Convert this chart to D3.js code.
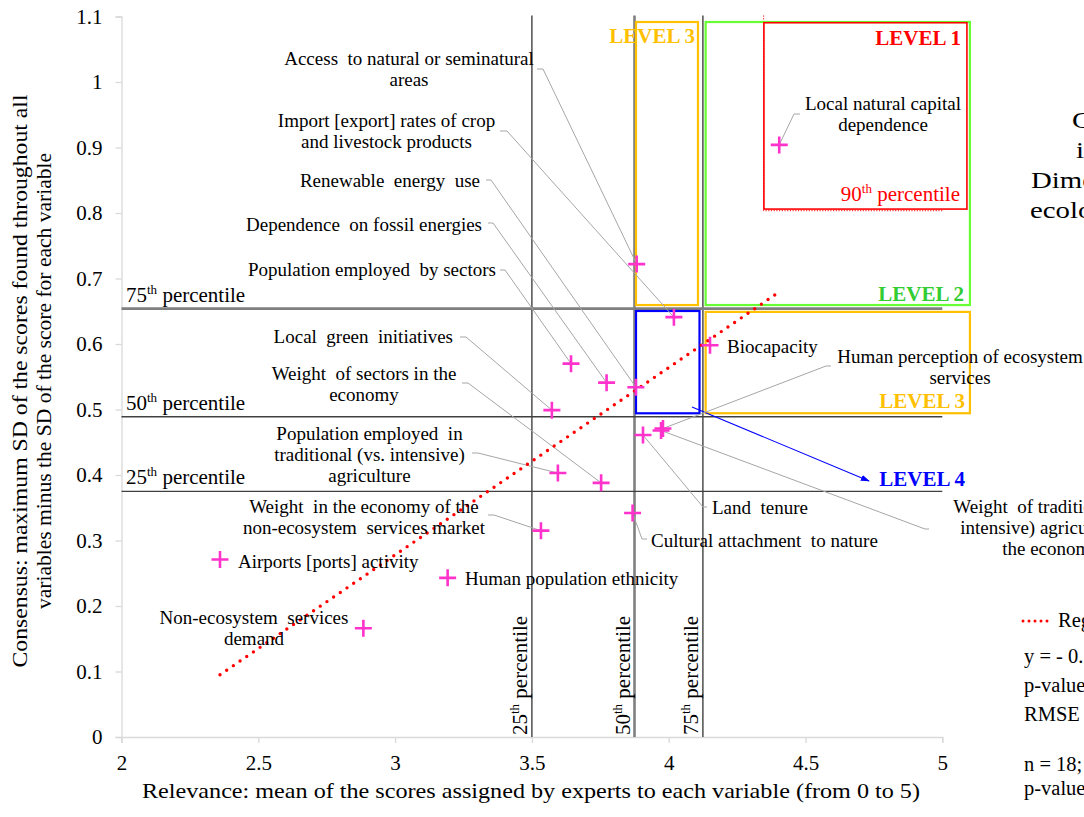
<!DOCTYPE html>
<html>
<head>
<meta charset="utf-8">
<script src="https://cdn.jsdelivr.net/npm/d3@7"></script>
<style>
  html, body { margin: 0; padding: 0; background: #fff; overflow: hidden; }
  svg { display: block; font-family: "Liberation Serif", "Times New Roman", serif; }
  text { white-space: pre; }
</style>
</head>
<body>
<svg id="chart" width="1084" height="817"></svg>
<script>
// ---- Variables scored by the experts ----
const variables = [
  "Local natural capital dependence",
  "Access to natural or seminatural areas",
  "Import [export] rates of crop and livestock products",
  "Renewable energy use",
  "Dependence on fossil energies",
  "Population employed by sectors",
  "Biocapacity",
  "Human perception of ecosystem services",
  "Local green initiatives",
  "Weight of sectors in the economy",
  "Population employed in traditional (vs. intensive) agriculture",
  "Weight in the economy of the non-ecosystem services market",
  "Airports [ports] activity",
  "Human population ethnicity",
  "Non-ecosystem services demand",
  "Cultural attachment to nature",
  "Land tenure",
  "Weight of traditional (vs. intensive) agriculture in the economy"
];
// Relevance: mean score (0-5)
const relevance = [4.404, 3.883, 4.019, 3.880, 3.773, 3.643, 4.151, 3.979, 3.573, 3.753, 3.595, 3.533, 2.360, 3.192, 2.884, 3.868, 3.906, 3.972];
// Consensus: max SD minus SD of the variable
const consensus = [0.904, 0.722, 0.641, 0.534, 0.541, 0.570, 0.598, 0.471, 0.499, 0.388, 0.403, 0.315, 0.271, 0.243, 0.166, 0.342, 0.461, 0.468];

// Percentile thresholds
const percentileNames = ["25", "50", "75"];
const relevancePercentiles = [3.5, 3.875, 4.125];
const consensusPercentiles = [0.375, 0.489, 0.654];
const relevanceP90 = 4.347;
const consensusP90 = 0.8035;

// Linear regression (consensus ~ relevance)
const regIntercept = -0.580;
const regSlope = 0.286;

// Priority levels (areas in data units)
const levelNames  = ["LEVEL 3", "LEVEL 2", "LEVEL 1", "LEVEL 4", "LEVEL 3"];
const levelColors = ["#FFC000", "#66FF33", "#FF0000", "#0000FF", "#FFC000"];
const levelX0 = [3.8805, 4.135, 4.348, 3.8805, 4.135];
const levelX1 = [4.107, 5.101, 5.090, 4.1126, 5.101];
const levelY0 = [0.6595, 0.6595, 0.806, 0.4942, 0.4943];
const levelY1 = [1.0916, 1.0916, 1.0905, 0.6504, 0.649];

// Axis ticks
const xTicks = [2, 2.5, 3, 3.5, 4, 4.5, 5];
const xTickLabels = ["2", "2.5", "3", "3.5", "4", "4.5", "5"];
const yTicks = [0, 0.1, 0.2, 0.3, 0.4, 0.5, 0.6, 0.7, 0.8, 0.9, 1, 1.1];
const yTickLabels = ["0", "0.1", "0.2", "0.3", "0.4", "0.5", "0.6", "0.7", "0.8", "0.9", "1", "1.1"];

// ---- Label layout (pixel placement of each variable's label and its leader stub) ----
const labelLayout = [
  { lines: ["Local natural capital", "dependence"], anchor: "middle", x: 883, y: 110, stub: [[800, 114], [794, 114]] },
  { lines: ["Access  to natural or seminatural", "areas"], anchor: "middle", x: 409, y: 65, stub: [[537, 69], [543, 69]] },
  { lines: ["Import [export] rates of crop", "and livestock products"], anchor: "middle", x: 386.5, y: 127, stub: [[500, 131], [507, 131]] },
  { lines: ["Renewable  energy  use"], anchor: "end", x: 480, y: 187, stub: [[486, 180], [491, 180]] },
  { lines: ["Dependence  on fossil energies"], anchor: "end", x: 482, y: 231, stub: [[488, 223], [493, 223]] },
  { lines: ["Population employed  by sectors"], anchor: "end", x: 496, y: 276, stub: [[500, 270], [505, 270]] },
  { lines: ["Biocapacity"], anchor: "start", x: 727, y: 353, stub: null },
  { lines: ["Human perception of ecosystem", "services"], anchor: "middle", x: 960, y: 363, stub: [[831, 366], [826, 366]] },
  { lines: ["Local  green  initiatives"], anchor: "end", x: 453, y: 343, stub: [[460, 337], [466, 337]] },
  { lines: ["Weight  of sectors in the", "economy"], anchor: "middle", x: 364, y: 380, stub: [[462, 383], [468, 383]] },
  { lines: ["Population employed  in", "traditional (vs. intensive)", "agriculture"], anchor: "middle", x: 369.5, y: 440, stub: [[472, 453], [478, 453]] },
  { lines: ["Weight  in the economy of the", "non-ecosystem  services market"], anchor: "middle", x: 364, y: 513, stub: [[488, 515], [494, 515]] },
  { lines: ["Airports [ports] activity"], anchor: "start", x: 238, y: 568, stub: null },
  { lines: ["Human population ethnicity"], anchor: "start", x: 465, y: 585, stub: null },
  { lines: ["Non-ecosystem  services", "demand"], anchor: "middle", x: 254, y: 624, stub: null },
  { lines: ["Cultural attachment  to nature"], anchor: "start", x: 651, y: 547, stub: [[647, 539], [642, 539]] },
  { lines: ["Land  tenure"], anchor: "start", x: 712, y: 514, stub: [[707, 507], [703, 507]] },
  { lines: ["Weight  of traditional (vs.", "intensive) agriculture in", "the economy"], anchor: "middle", x: 1051, y: 513, stub: [[929, 529], [925, 529]] }
];

const svg = d3.select("#chart");
svg.append("rect").attr("width", 1084).attr("height", 817).attr("fill", "#fff");

const x = d3.scaleLinear().domain([2, 5]).range([121.5, 942.3]);
const y = d3.scaleLinear().domain([0, 1.1]).range([737, 16.5]);

const serif = '"Liberation Serif", "Times New Roman", serif';

// ---- Axes ----
const yAxis = d3.axisLeft(y).tickValues(yTicks).tickSize(6).tickPadding(13)
  .tickFormat((d, i) => yTickLabels[i]);
const xAxis = d3.axisBottom(x).tickValues(xTicks).tickSize(6).tickPadding(12)
  .tickFormat((d, i) => xTickLabels[i]);

const gy = svg.append("g").attr("transform", `translate(${x(2)},0)`).call(yAxis);
const gx = svg.append("g").attr("transform", `translate(0,${y(0)})`).call(xAxis);
[gx, gy].forEach(g => {
  g.select(".domain").attr("stroke", "#D9D9D9").attr("stroke-width", 1.3);
  g.selectAll(".tick line").attr("stroke", "#D9D9D9").attr("stroke-width", 1.3);
  g.selectAll(".tick text").attr("font-family", serif).attr("font-size", 21).attr("fill", "#000");
});

// Axis titles
svg.append("text")
  .attr("x", 531).attr("y", 798)
  .attr("text-anchor", "middle").attr("font-size", 21).attr("fill", "#000")
  .attr("textLength", 778).attr("lengthAdjust", "spacingAndGlyphs")
  .text("Relevance: mean of the scores assigned by experts to each variable (from 0 to 5)");

const yTitle = ["Consensus: maximum SD of the scores found throughout all",
                "variables minus the SD of the score for each variable"];
const yTitleLen = [573, 456];
yTitle.forEach((t, i) => {
  svg.append("text")
    .attr("transform", `translate(${27 + i * 24},381) rotate(-90)`)
    .attr("text-anchor", "middle").attr("font-size", 21).attr("fill", "#000")
    .attr("textLength", yTitleLen[i]).attr("lengthAdjust", "spacingAndGlyphs")
    .text(t);
});

// ---- Percentile lines ----
const pctStyle = [
  { stroke: "#404040", width: 1.4 },
  { stroke: "#7F7F7F", width: 2.6 },
  { stroke: "#404040", width: 1.4 }
];
relevancePercentiles.forEach((v, i) => {
  svg.append("line")
    .attr("x1", x(v)).attr("x2", x(v)).attr("y1", y(1.1) - 1).attr("y2", y(0))
    .attr("stroke", pctStyle[i].stroke).attr("stroke-width", pctStyle[i].width);
});
const hStyle = [
  { stroke: "#404040", width: 1.4 },
  { stroke: "#404040", width: 1.4 },
  { stroke: "#7F7F7F", width: 2.6 }
];
consensusPercentiles.forEach((v, i) => {
  svg.append("line")
    .attr("x1", x(2)).attr("x2", x(5)).attr("y1", y(v)).attr("y2", y(v))
    .attr("stroke", hStyle[i].stroke).attr("stroke-width", hStyle[i].width);
});

// Percentile labels (superscripted ordinal)
function pctLabel(sel, num, fill) {
  sel.append("tspan").text(num);
  sel.append("tspan").attr("font-size", 13).attr("dy", -8).text("th");
  sel.append("tspan").attr("dy", 8).text(" percentile");
  sel.attr("fill", fill);
}
consensusPercentiles.forEach((v, i) => {
  const t = svg.append("text").attr("x", 126).attr("y", y(v) - 7)
    .attr("font-size", 21);
  pctLabel(t, percentileNames[i], "#000");
});
relevancePercentiles.forEach((v, i) => {
  const t = svg.append("text")
    .attr("transform", `translate(${x(v) - 5},${y(0) - 2}) rotate(-90)`)
    .attr("font-size", 21);
  pctLabel(t, percentileNames[i], "#000");
});

// ---- 90th percentile guides ----
svg.append("path")
  .attr("d", `M${x(relevanceP90)},${y(1.1) - 1}V${y(consensusP90)}H${x(5) + 1}`)
  .attr("fill", "none").attr("stroke", "#FF0000").attr("stroke-width", 1)
  .attr("stroke-dasharray", "1.2 1.5");

// ---- Priority level areas ----
const levelWidths = [2.2, 2.2, 1.6, 2.2, 2.2];
levelNames.forEach((n, i) => {
  svg.append("rect")
    .attr("x", x(levelX0[i])).attr("y", y(levelY1[i]))
    .attr("width", x(levelX1[i]) - x(levelX0[i]))
    .attr("height", y(levelY0[i]) - y(levelY1[i]))
    .attr("fill", "none").attr("stroke", levelColors[i]).attr("stroke-width", levelWidths[i]);
});

// Level captions
const levelText = [
  { t: "LEVEL 3", x: 695, y: 43, c: "#FFC000" },
  { t: "LEVEL 1", x: 961, y: 45, c: "#FF0000" },
  { t: "LEVEL 2", x: 964, y: 301, c: "#33CC33" },
  { t: "LEVEL 3", x: 965, y: 408, c: "#FFC000" },
  { t: "LEVEL 4", x: 965, y: 486, c: "#0000FF" }
];
levelText.forEach(d => {
  svg.append("text").attr("x", d.x).attr("y", d.y)
    .attr("text-anchor", "end").attr("font-size", 21).attr("font-weight", "bold")
    .attr("fill", d.c).text(d.t);
});
{
  const t = svg.append("text").attr("x", 960).attr("y", 201)
    .attr("text-anchor", "end").attr("font-size", 21);
  pctLabel(t, "90", "#FF0000");
}

// Arrow pointing to LEVEL 4
svg.append("defs").append("marker")
  .attr("id", "arrow").attr("viewBox", "0 0 10 10").attr("refX", 9).attr("refY", 5)
  .attr("markerWidth", 9).attr("markerHeight", 9).attr("orient", "auto")
  .attr("markerUnits", "userSpaceOnUse")
  .append("path").attr("d", "M0,1.5L10,5L0,8.5Z").attr("fill", "#0000FF");
svg.append("line")
  .attr("x1", 692).attr("y1", 407).attr("x2", 869).attr("y2", 481)
  .attr("stroke", "#0000FF").attr("stroke-width", 1.1).attr("marker-end", "url(#arrow)");

// ---- Leader lines ----
labelLayout.forEach((l, i) => {
  if (!l.stub) return;
  const pts = l.stub.concat([[x(relevance[i]), y(consensus[i])]]);
  svg.append("path").attr("d", d3.line()(pts))
    .attr("fill", "none").attr("stroke", "#A6A6A6").attr("stroke-width", 1);
});

// ---- Regression line ----
const regX = d3.extent(relevance);
svg.append("line")
  .attr("x1", x(regX[0])).attr("y1", y(regIntercept + regSlope * regX[0]))
  .attr("x2", x(regX[1])).attr("y2", y(regIntercept + regSlope * regX[1]))
  .attr("stroke", "#FF0000").attr("stroke-width", 3.4)
  .attr("stroke-linecap", "round").attr("stroke-dasharray", "0 8.1");

// ---- Points ----
svg.append("g").selectAll("path").data(variables).join("path")
  .attr("transform", (d, i) => `translate(${x(relevance[i])},${y(consensus[i])})`)
  .attr("d", "M-8.5,0H8.5M0,-8.5V8.5")
  .attr("stroke", "#FF33CC").attr("stroke-width", 2.6).attr("fill", "none");

// ---- Point labels ----
labelLayout.forEach((l, i) => {
  const t = svg.append("text")
    .attr("text-anchor", l.anchor).attr("font-size", 19).attr("fill", "#000");
  l.lines.forEach((s, k) => {
    t.append("tspan").attr("x", l.x).attr("y", l.y + k * 21).text(s);
  });
});

// ---- Side title (runs past the right edge) ----
const sideTitle = ["Criteria", "in", "Dimension:", "ecological"];
const sideX = [1072, 1076, 1031, 1030];
sideTitle.forEach((s, i) => {
  svg.append("text")
    .attr("transform", `translate(${sideX[i]},${128 + i * 30}) scale(1.2,1)`)
    .attr("font-size", 24).attr("fill", "#000").text(s);
});

// ---- Regression legend ----
svg.append("line")
  .attr("x1", 1023).attr("x2", 1053).attr("y1", 621).attr("y2", 621)
  .attr("stroke", "#FF0000").attr("stroke-width", 3)
  .attr("stroke-linecap", "round").attr("stroke-dasharray", "0 6");
svg.append("text").attr("x", 1058).attr("y", 627).attr("font-size", 20.5).text("Regression");
const legendLines = [
  `y = - ${Math.abs(regIntercept).toFixed(2)} + ${regSlope.toFixed(2)}x`,
  "p-value < 0.001",
  "RMSE = 0.11",
  "",
  "n = 18; r = 0.76",
  "p-value < 0.001"
];
const legendY = [663, 692, 721, 0, 771, 795];
legendLines.forEach((s, i) => {
  if (!s) return;
  svg.append("text").attr("x", 1024).attr("y", legendY[i]).attr("font-size", 20.5).text(s);
});
</script>
</body>
</html>
